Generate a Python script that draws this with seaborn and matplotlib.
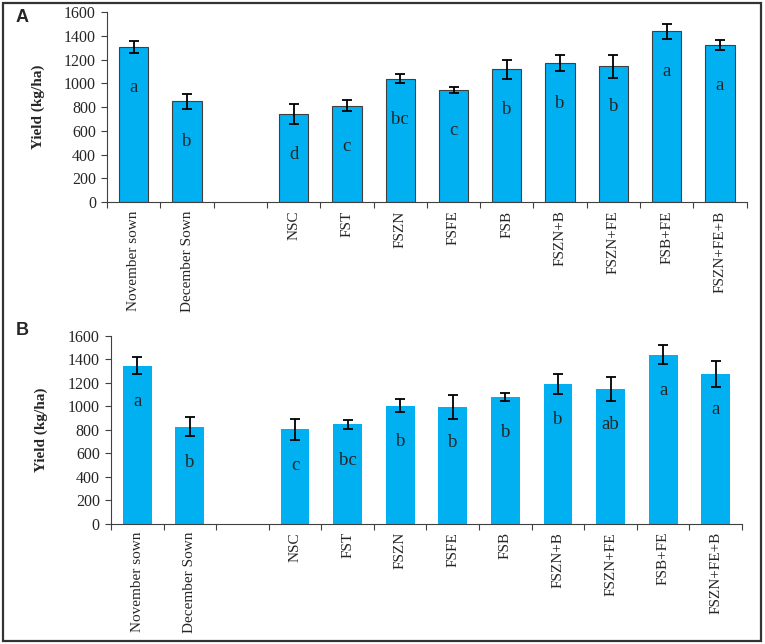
import matplotlib
matplotlib.use('Agg')
import matplotlib.pyplot as plt
import matplotlib.patches
import numpy as np
import pandas as pd
import seaborn as sns

BAR_COLOR = '#00B0F0'

## data -----------------------------------------
treatments = ['November sown', 'December Sown', 'NSC', 'FST', 'FSZN', 'FSFE',
              'FSB', 'FSZN+B', 'FSZN+FE', 'FSB+FE', 'FSZN+FE+B']
# blank slot between sowing dates and seed treatments
order = treatments[:2] + [' '] + treatments[2:]

yield_a = [1308, 852, 742, 813, 1040, 948, 1119, 1173, 1145, 1440, 1324]
err_a = [52, 63, 81, 48, 36, 25, 81, 68, 97, 62, 38]
letters_a = ['a', 'b', 'd', 'c', 'bc', 'c', 'b', 'b', 'b', 'a', 'a']

yield_b = [1344, 824, 801, 844, 1003, 992, 1080, 1188, 1145, 1438, 1276]
err_b = [71, 82, 87, 40, 55, 100, 34, 83, 101, 78, 110]
letters_b = ['a', 'b', 'c', 'bc', 'b', 'b', 'b', 'b', 'ab', 'a', 'a']

sns.set_style('white')
plt.rcParams['font.family'] = ['Liberation Serif', 'DejaVu Serif']
plt.rcParams['font.size'] = 10.5


def yield_panel(ax, values, errs, letters, edge, letter_drop):
    df = pd.DataFrame({'treatment': treatments, 'yield': values, 'err': errs,
                       'letter': letters})
    sns.barplot(data=df, x='treatment', y='yield', order=order, color=BAR_COLOR,
                width=0.55, errorbar=None, saturation=1,
                edgecolor=edge, linewidth=0.8 if edge else 0, ax=ax)

    pos = [order.index(t) for t in df['treatment']]
    ax.errorbar(pos, df['yield'], yerr=df['err'], fmt='none', ecolor='black',
                elinewidth=1.3, capsize=3.5, capthick=1.3)
    for x, (_, row) in zip(pos, df.iterrows()):
        ax.text(x, row['yield'] - letter_drop, row['letter'], ha='center',
                va='center', fontsize=13.5)

    ax.set_xlim(-0.5, len(order) - 0.5)
    ax.set_ylim(0, 1600)
    ax.set_yticks(np.arange(0, 1601, 200))
    ax.set_xlabel('')
    ax.set_ylabel('Yield (kg/ha)', fontweight='bold', fontsize=11, labelpad=14)

    # excel-like category axis: ticks on the boundaries, labels centred
    ax.set_xticks(np.arange(-0.5, len(order)), minor=True)
    ax.tick_params(axis='x', which='major', length=0, pad=6, rotation=90,
                   labelsize=11)
    ax.tick_params(axis='x', which='minor', length=4, width=0.8,
                   color='#404040', direction='out', bottom=True)
    ax.tick_params(axis='y', length=4, width=0.8, color='#404040',
                   direction='out', left=True, labelsize=11.5, pad=4)

    sns.despine(ax=ax)
    for s in ('left', 'bottom'):
        ax.spines[s].set_color('#404040')
        ax.spines[s].set_linewidth(0.8)


fig = plt.figure(figsize=(7.65, 6.44), dpi=100)
ax_a = fig.add_axes([0.140, 0.686, 0.836, 0.295])
ax_b = fig.add_axes([0.145, 0.187, 0.825, 0.292])

yield_panel(ax_a, yield_a, err_a, letters_a, '#404040', 340)
yield_panel(ax_b, yield_b, err_b, letters_b, None, 305)

for lab, y in (('A', 0.973), ('B', 0.487)):
    fig.text(0.020, y, lab, fontweight='bold', fontsize=13,
             family=['Liberation Sans', 'DejaVu Sans'], va='center')

# frame round the whole figure
fig.patches.append(matplotlib.patches.Rectangle(
    (0.004, 0.005), 0.991, 0.99, transform=fig.transFigure, fill=False,
    edgecolor='#333333', linewidth=1.6))

fig.savefig('out.png', dpi=100)
